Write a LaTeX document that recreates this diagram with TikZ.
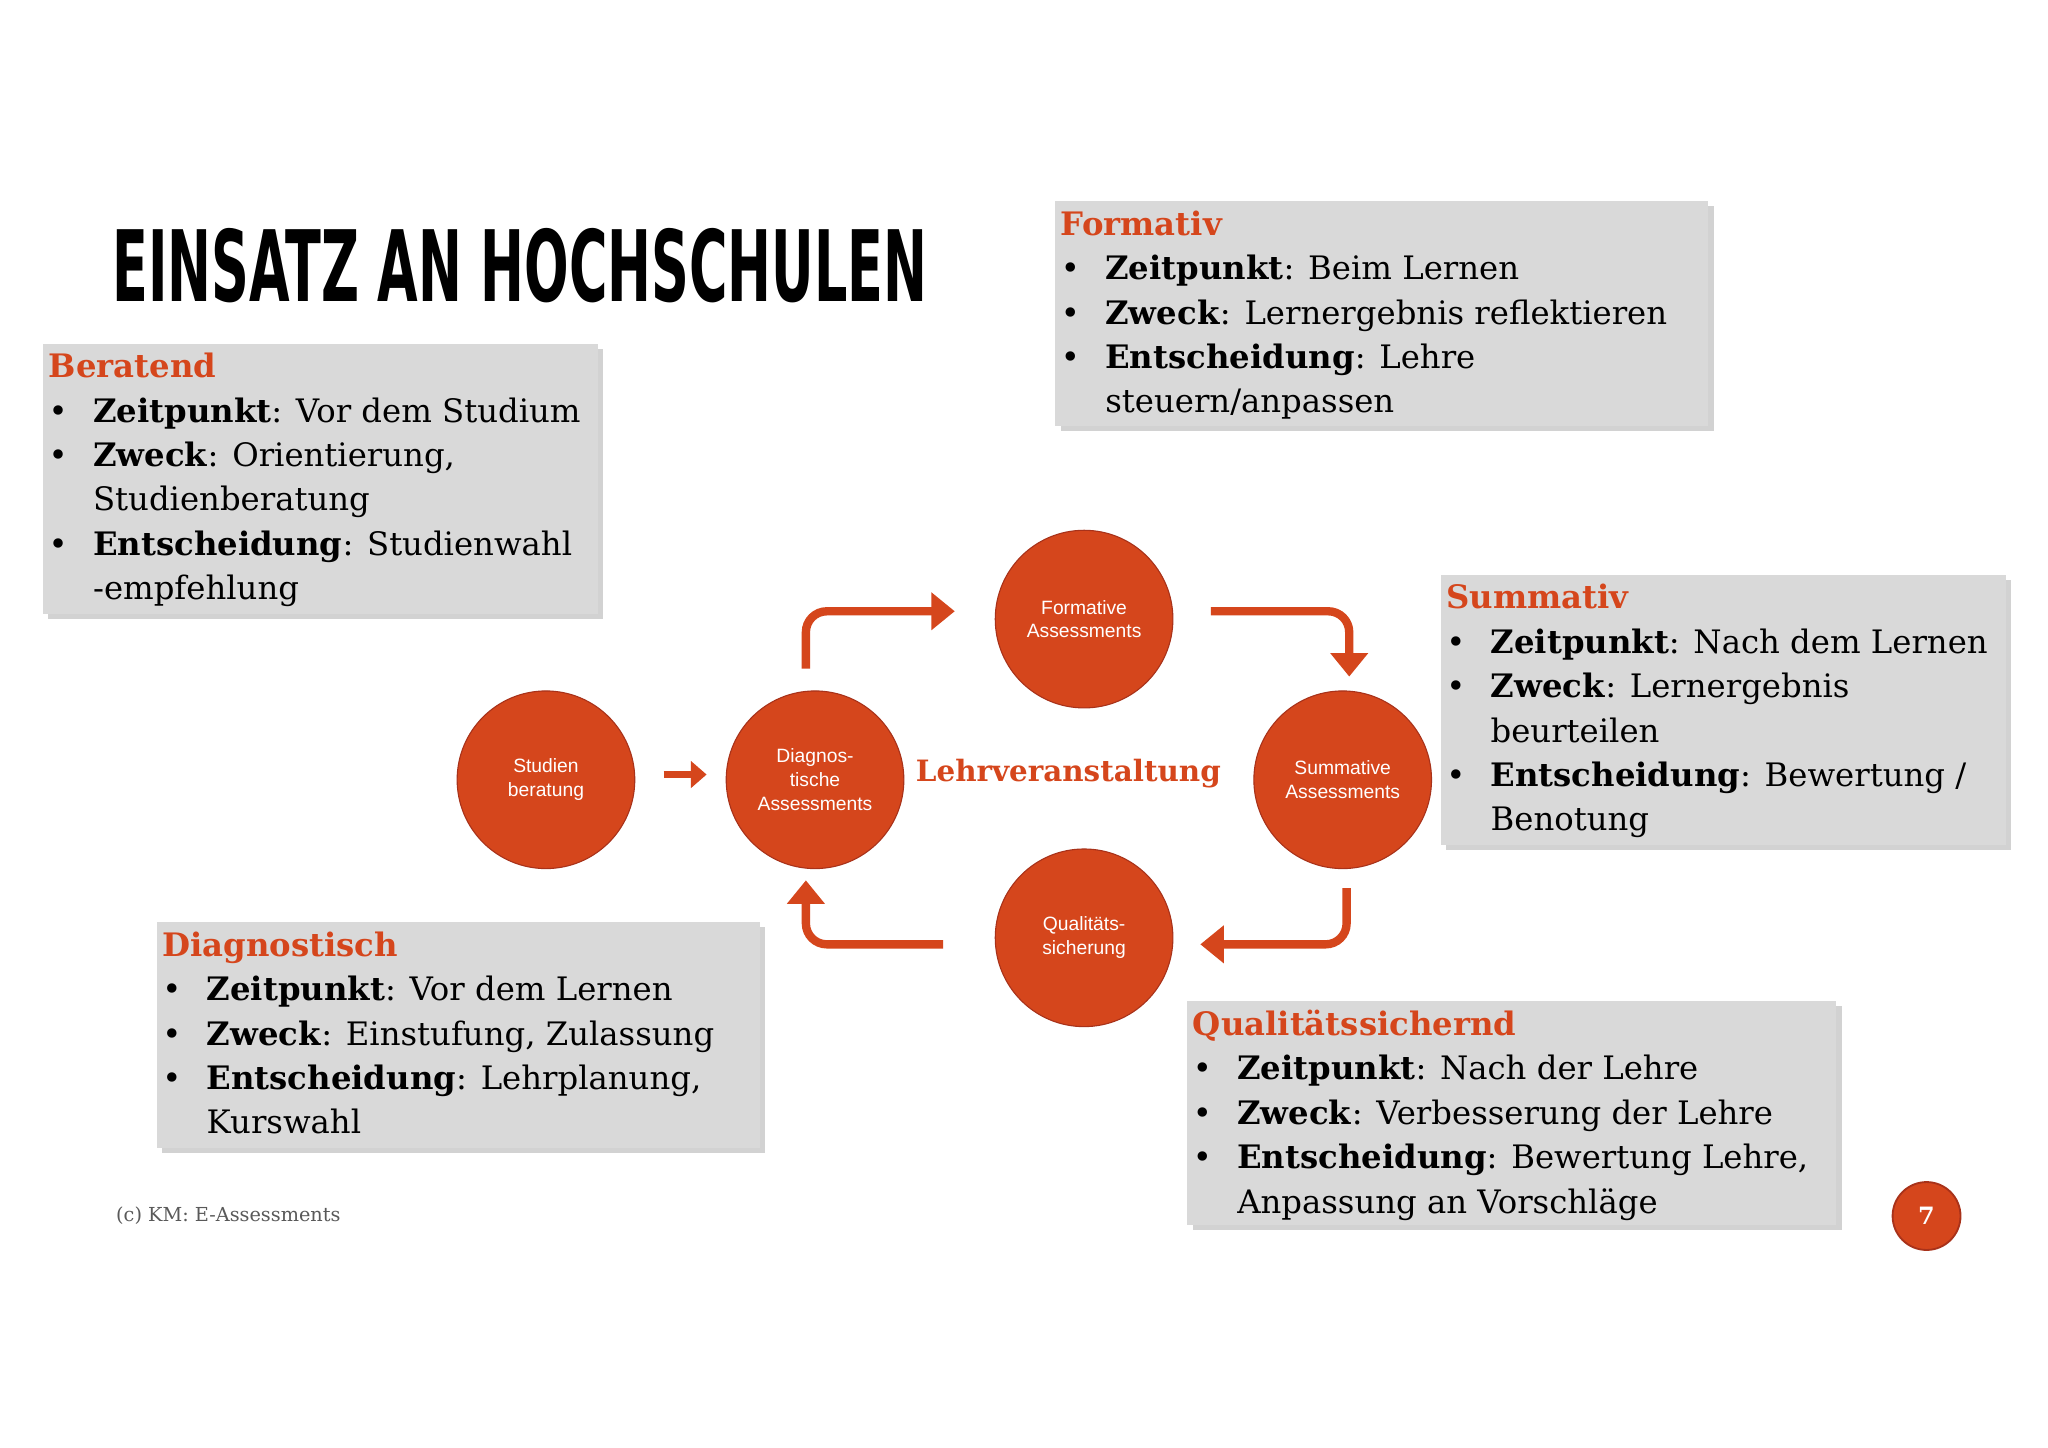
\documentclass[tikz,border=0pt]{standalone}
\usepackage{fontspec}
\setmainfont{DejaVu Serif}
\newfontfamily\titlefont{DejaVu Sans}
\newfontfamily\sansf{Liberation Sans}
\usetikzlibrary{arrows.meta,shadows}
\definecolor{org}{HTML}{D5461C}
\definecolor{orgd}{HTML}{A8321A}
\definecolor{boxg}{HTML}{D9D9D9}
\newcommand\itm[2]{\makebox[8.5mm][l]{\textbullet}\textbf{#1}: #2}
\newcommand\cnt{\hspace*{8.5mm}}
\newcommand\hd[1]{{\color{org}\textbf{#1}}}
\tikzset{
  infobox/.style={fill=boxg, draw=none, drop shadow={shadow xshift=1mm,shadow yshift=-1mm,opacity=0.35}},
  boxtext/.style={anchor=north west, inner sep=0, align=left, font=\fontsize{17.6}{24.2}\selectfont},
  circ/.style={circle, fill=org, draw=orgd, line width=0.6pt, minimum size=34mm, inner sep=0, align=center, text=white, font=\sansf\fontsize{10.5}{13}\selectfont},
  flow/.style={draw=org, line width=1.6mm, rounded corners=4mm, -{Triangle[length=4.5mm,width=7mm]}}
}
\begin{document}
\begin{tikzpicture}[x=0.25mm,y=-0.25mm]
\useasboundingbox[fill=white] (0,0) rectangle (1568,1108);
\node[inner sep=0] (title) at (398,203) {\resizebox{156mm}{14mm}{\titlefont\bfseries EINSATZ AN HOCHSCHULEN}};

% boxes
\path[infobox] (33,263) rectangle (458,470);
\node[boxtext] (b1) at (37,270) {\hd{Beratend}\\\itm{Zeitpunkt}{Vor dem Studium}\\\itm{Zweck}{Orientierung,}\\\cnt Studienberatung\\\itm{Entscheidung}{Studienwahl}\\\cnt -empfehlung};
\path[infobox] (808,154) rectangle (1308,326);
\node[boxtext] (b2) at (812,161) {\hd{Formativ}\\\itm{Zeitpunkt}{Beim Lernen}\\\itm{Zweck}{Lernergebnis reflektieren}\\\itm{Entscheidung}{Lehre}\\\cnt steuern/anpassen};
\path[infobox] (1103,440) rectangle (1536,647);
\node[boxtext] (b3) at (1107,447) {\hd{Summativ}\\\itm{Zeitpunkt}{Nach dem Lernen}\\\itm{Zweck}{Lernergebnis}\\\cnt beurteilen\\\itm{Entscheidung}{Bewertung /}\\\cnt Benotung};
\path[infobox] (120,706) rectangle (582,879);
\node[boxtext] (b4) at (124,713) {\hd{Diagnostisch}\\\itm{Zeitpunkt}{Vor dem Lernen}\\\itm{Zweck}{Einstufung, Zulassung}\\\itm{Entscheidung}{Lehrplanung,}\\\cnt Kurswahl};
\path[infobox] (909,766) rectangle (1406,938);
\node[boxtext] (b5) at (913,773) {\hd{Qualitätssichernd}\\\itm{Zeitpunkt}{Nach der Lehre}\\\itm{Zweck}{Verbesserung der Lehre}\\\itm{Entscheidung}{Bewertung Lehre,}\\\cnt Anpassung an Vorschläge};

% circles
\node[circ] (st) at (418,597) {Studien\\beratung};
\node[circ] (di) at (624,597) {Diagnos-\\tische\\Assessments};
\node[circ] (fo) at (830,474) {Formative\\Assessments};
\node[circ] (su) at (1028,597) {Summative\\Assessments};
\node[circ] (qu) at (830,718) {Qualitäts-\\sicherung};
\node[text=org, font=\bfseries\fontsize{16}{20}\selectfont] (lv) at (818,592) {Lehrveranstaltung};

% arrows
\coordinate (a1s) at (508,593); \coordinate (a1e) at (541,593);
\draw[draw=org, line width=1.2mm, -{Triangle[length=3mm,width=5mm]}] (a1s) -- (a1e);
\coordinate (a2s) at (617,512); \coordinate (a2e) at (731,468);
\draw[flow] (a2s) |- (a2e);
\coordinate (a3s) at (927,468); \coordinate (a3e) at (1033,518);
\draw[flow] (a3s) -| (a3e);
\coordinate (a4s) at (1031,680); \coordinate (a4e) at (919,723);
\draw[flow] (a4s) |- (a4e);
\coordinate (a5s) at (722,723); \coordinate (a5e) at (617,674);
\draw[flow] (a5s) -| (a5e);

\node[text=black!65, font=\fontsize{10.5}{12}\selectfont, anchor=west] (foot) at (84,931) {(c) KM: E-Assessments};
\node[circle, fill=org, draw=orgd, line width=1pt, minimum size=13mm, text=white, font=\bfseries\fontsize{13}{13}\selectfont] (pg) at (1475,931) {7};
\end{tikzpicture}
\end{document}
